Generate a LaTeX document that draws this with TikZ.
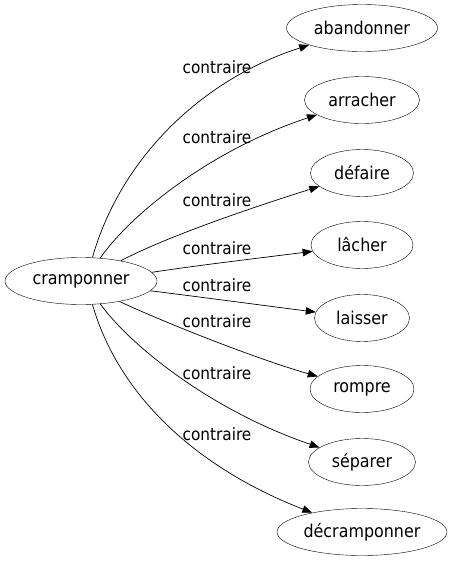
\documentclass[tikz,border=0pt]{standalone}
\usepackage{fontspec}
\setmainfont{DejaVu Sans Condensed}
\usetikzlibrary{arrows.meta,shapes.geometric}
\begin{document}
\begin{tikzpicture}[x=1pt,y=-1pt,
  word/.style={draw,ellipse,inner sep=0pt,minimum height=47pt,font=\fontsize{17.7}{20}\selectfont},
  lbl/.style={inner sep=0pt,font=\fontsize{17}{20}\selectfont},
  edge/.style={-{Triangle[length=10pt,width=7.5pt]},line width=0.7pt}]
\useasboundingbox (0,0) rectangle (456,563);
\node[word,minimum width=152pt] (s) at (81,281) {cramponner};
\node[word,minimum width=151pt] (t1) at (362,28) {abandonner};
\node[word,minimum width=115pt] (t2) at (362,100) {arracher};
\node[word,minimum width=103pt] (t3) at (362,173) {défaire};
\node[word,minimum width=102pt] (t4) at (362,245) {lâcher};
\node[word,minimum width=95pt] (t5) at (362,318) {laisser};
\node[word,minimum width=104pt] (t6) at (362,389) {rompre};
\node[word,minimum width=107pt] (t7) at (362,462) {séparer};
\node[word,minimum width=170pt] (t8) at (362,532) {décramponner};
\draw[edge] (s.64) .. controls (120,160) and (200,80) .. (t1);
\draw[edge] (s.50) .. controls (130,215) and (210,150) .. (t2);
\draw[edge] (s.27) .. controls (170,235) and (260,205) .. (t3);
\draw[edge] (s.7) .. controls (200,265) and (260,258) .. (t4);
\draw[edge] (s.-8) .. controls (200,297) and (260,305) .. (t5);
\draw[edge] (s.-28) .. controls (170,325) and (260,360) .. (t6);
\draw[edge] (s.-50) .. controls (130,345) and (210,410) .. (t7);
\draw[edge] (s.-64) .. controls (120,400) and (202,470) .. (t8);
\node[lbl] (l1) at (217,67) {contraire};
\node[lbl] (l2) at (217,137) {contraire};
\node[lbl] (l3) at (217,200) {contraire};
\node[lbl] (l4) at (217,248) {contraire};
\node[lbl] (l5) at (217,285) {contraire};
\node[lbl] (l6) at (217,321) {contraire};
\node[lbl] (l7) at (217,373) {contraire};
\node[lbl] (l8) at (217,434) {contraire};
\end{tikzpicture}
\end{document}
